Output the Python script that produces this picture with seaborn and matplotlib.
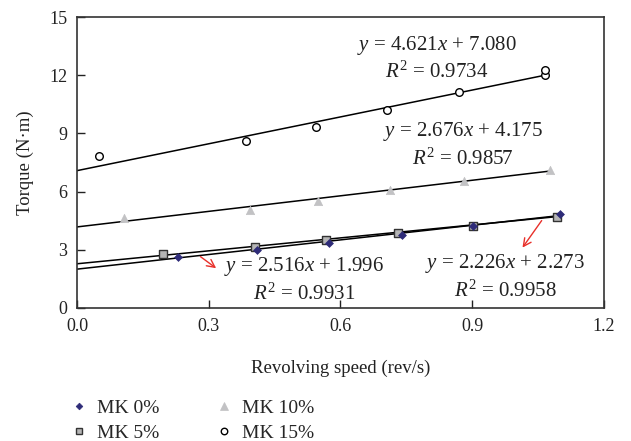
import numpy as np
import pandas as pd
import matplotlib
matplotlib.use("Agg")
import matplotlib.pyplot as plt
import seaborn as sns
from matplotlib.lines import Line2D

# ---- data ----
labels = ["MK 0%", "MK 5%", "MK 10%", "MK 15%"]
x_mk0 = [0.229, 0.409, 0.573, 0.741, 0.902, 1.100]
y_mk0 = [2.64, 2.99, 3.33, 3.76, 4.22, 4.83]
x_mk5 = [0.197, 0.406, 0.567, 0.732, 0.902, 1.094]
y_mk5 = [2.77, 3.16, 3.50, 3.85, 4.23, 4.68]
x_mk10 = [0.107, 0.393, 0.550, 0.713, 0.881, 1.077]
y_mk10 = [4.65, 5.07, 5.52, 6.07, 6.52, 7.12]
x_mk15 = [0.050, 0.384, 0.544, 0.707, 0.870, 1.066, 1.066]
y_mk15 = [7.83, 8.62, 9.33, 10.20, 11.12, 12.00, 12.30]
slopes = [2.516, 2.226, 2.676, 4.621]
intercepts = [1.996, 2.273, 4.175, 7.080]
r2 = ["0.9931", "0.9958", "0.9857", "0.9734"]
x_ticks = [0.0, 0.3, 0.6, 0.9, 1.2]
y_ticks = [0, 3, 6, 9, 12, 15]

xs = [x_mk0, x_mk5, x_mk10, x_mk15]
ys = [y_mk0, y_mk5, y_mk10, y_mk15]

sns.set_style("ticks")
plt.rcParams["font.family"] = ["Liberation Serif", "DejaVu Serif"]
plt.rcParams["mathtext.fontset"] = "custom"
plt.rcParams["mathtext.rm"] = "Liberation Serif"
plt.rcParams["mathtext.it"] = "Liberation Serif:italic"

fig = plt.figure(figsize=(6.31, 4.41), dpi=100)
ax = fig.add_axes([0.122, 0.302, 0.835, 0.659])

styles = [
    dict(marker="D", color="#2e2b78", edgecolor="#2e2b78", s=16, linewidth=0.5),
    dict(marker="s", color="#b5b5b5", edgecolor="#333333", s=30, linewidth=1.0),
    dict(marker="^", color="#c2c2c4", edgecolor="#c2c2c4", s=36, linewidth=0.5),
    dict(marker="o", color="white", edgecolor="black", s=30, linewidth=1.0),
]

# fit lines (trend lines from reported equations)
for i in range(4):
    lx = np.array([0.0, max(xs[i])])
    ly = slopes[i] * lx + intercepts[i]
    sns.lineplot(x=lx, y=ly, ax=ax, color="black", linewidth=1.1, zorder=2)

order = [2, 3, 1, 0]
for i in order:
    df = pd.DataFrame({"x": xs[i], "y": ys[i]})
    sns.scatterplot(data=df, x="x", y="y", ax=ax, zorder=3, **styles[i])

ax.set_xlim(0, 1.2)
ax.set_ylim(0, 15)
ax.set_xticks(x_ticks)
ax.set_xticklabels([f"{v:.1f}" for v in x_ticks])
ax.set_yticks(y_ticks)
ax.tick_params(direction="in", length=6, width=1, labelsize=13, colors="#222222", pad=7)
ax.tick_params(axis="x", pad=7)
for s in ax.spines.values():
    s.set_visible(True)
    s.set_color("#333333")
    s.set_linewidth(1.2)
ax.set_xlabel("Revolving speed (rev/s)", fontsize=13.5, color="#222222", labelpad=18)
ax.set_ylabel("Torque (N·m)", fontsize=13.5, color="#222222", labelpad=11)

# equations
eq_pos = [(0.517, 2.13), (0.975, 2.30), (0.880, 9.09), (0.820, 13.56)]
for i in range(4):
    ex, ey = eq_pos[i]
    ax.text(ex, ey, r"$y$ = %.3f$x$ + %.3f" % (slopes[i], intercepts[i]),
            ha="center", va="center", fontsize=15, color="#222222")
    ax.text(ex, ey - 1.42, r"$R^2$ = " + r2[i],
            ha="center", va="center", fontsize=15, color="#222222")

# red arrows
ax.annotate("", xy=(0.322, 1.96), xytext=(0.276, 2.73),
            arrowprops=dict(arrowstyle="->", color="#e8302a", lw=1.0, mutation_scale=14))
ax.annotate("", xy=(1.011, 2.99), xytext=(1.062, 4.62),
            arrowprops=dict(arrowstyle="->", color="#e8302a", lw=1.0, mutation_scale=14))

# legend
handles = []
for i in range(4):
    st = styles[i]
    handles.append(Line2D([], [], linestyle="none", marker=st["marker"],
                          markerfacecolor=st["color"], markeredgecolor=st["edgecolor"],
                          markersize=np.sqrt(st["s"]) * 0.85, markeredgewidth=st["linewidth"]))
fig.legend(handles, labels, ncol=2, loc="upper left", bbox_to_anchor=(0.107, 0.095),
           frameon=False, fontsize=14, handletextpad=0.3, columnspacing=2.75,
           labelspacing=0.4, handlelength=1.2, borderaxespad=0, borderpad=0)

fig.savefig("out.png", dpi=100)
